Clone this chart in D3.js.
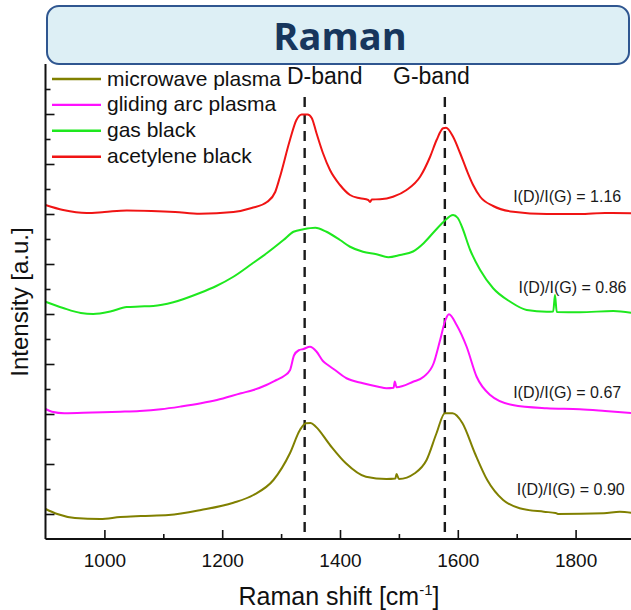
<!DOCTYPE html>
<html>
<head>
<meta charset="utf-8">
<script src="https://cdn.jsdelivr.net/npm/d3@7"></script>
<style>
  html, body { margin: 0; padding: 0; background: #fff; }
  svg { display: block; }
  text { font-family: "Liberation Sans", Arial, sans-serif; }
</style>
</head>
<body>
<div id="chart"></div>
<script>
// ---------- data ----------
const seriesNames = ["microwave plasma", "gliding arc plasma", "gas black", "acetylene black"];
const seriesColors = ["#808000", "#ff10ff", "#1ee81e", "#f01414"];

const microwaveShift = [900,920,950,993,1027,1062,1109,1164,1219,1253,1287,1315,1332,1342,1350,1359,1383,1410,1444,1479,1494,1496,1500,1527,1547,1564,1578,1591,1608,1629,1650,1677,1705,1746,1766,1770,1848,1875,1900];
const microwaveInt   = [0.2,0.0,-0.16,-0.2,-0.12,-0.08,-0.04,0.16,0.45,0.76,1.36,2.43,3.36,3.63,3.64,3.49,2.76,2.03,1.49,1.4,1.42,1.6,1.4,1.63,2.16,3.24,4.03,4.03,3.63,2.43,1.36,0.56,0.23,0.09,0.04,0.0,0.03,0.09,0.03];

const glidingShift = [900,911,932,980,1027,1060,1096,1130,1164,1191,1232,1253,1275,1292,1305,1315,1322,1330,1338,1349,1360,1371,1380,1389,1411,1439,1465,1479,1491,1493,1496,1524,1542,1559,1570,1579,1585,1598,1615,1632,1655,1693,1751,1807,1850,1900];
const glidingInt   = [4.2,4.09,4.03,4.06,4.09,4.12,4.19,4.3,4.43,4.56,4.83,4.96,5.16,5.36,5.52,5.75,6.35,6.55,6.6,6.69,6.5,6.12,5.95,5.8,5.43,5.23,5.09,5.03,5.05,5.3,5.07,5.29,5.49,6.03,6.96,7.76,7.99,7.56,6.69,5.49,4.76,4.36,4.23,4.19,4.12,4.03];

const gasShift = [900,930,960,981,1010,1038,1060,1083,1117,1162,1190,1219,1250,1276,1304,1321,1338,1358,1377,1400,1417,1439,1462,1482,1502,1524,1542,1559,1576,1592,1600,1607,1621,1638,1660,1689,1717,1751,1762,1765,1768,1807,1864,1900];
const gasInt   = [8.49,8.24,8.04,8.0,8.1,8.28,8.3,8.32,8.47,8.84,9.12,9.49,10.0,10.44,10.96,11.29,11.39,11.45,11.29,10.96,10.69,10.49,10.39,10.27,10.36,10.5,10.83,11.27,11.69,11.96,11.84,11.49,10.56,9.76,9.03,8.49,8.16,8.09,8.1,8.76,8.08,8.07,8.12,8.03];

const acetyleneShift = [900,930,970,1000,1038,1080,1120,1162,1219,1250,1276,1290,1298,1315,1326,1335,1345,1352,1360,1371,1383,1400,1417,1434,1448,1451,1454,1468,1490,1513,1536,1553,1564,1575,1580,1592,1604,1615,1626,1638,1660,1694,1751,1807,1850,1900];
const acetyleneInt   = [12.36,12.16,12.04,12.08,12.14,12.12,12.08,12.01,12.08,12.24,12.48,12.88,13.48,14.96,15.76,15.98,15.98,15.84,15.24,14.44,13.76,13.16,12.76,12.63,12.56,12.48,12.58,12.59,12.69,12.96,13.49,14.29,14.96,15.43,15.45,15.09,14.43,13.76,13.16,12.69,12.32,12.09,12.0,12.0,12.04,12.03];

const ratioLabels = ["I(D)/I(G) = 0.90", "I(D)/I(G) = 0.67", "I(D)/I(G) = 0.86", "I(D)/I(G) = 1.16"];
const ratioLabelShift = [1700, 1694, 1703, 1694];
const ratioLabelInt = [0.76, 4.63, 8.83, 12.49];

const bandNames = ["D-band", "G-band"];
const bandShift = [1340, 1578];

const xTickValues = [1000, 1200, 1400, 1600, 1800];
const xMinorTicks = [1100, 1300, 1500, 1700];
const yMajorTicks = [0, 2, 4, 6, 8, 10, 12, 14, 16];
const yMinorTicks = [1, 3, 5, 7, 9, 11, 13, 15, 17];

const titleText = "Raman";
const xLabel = "Raman shift [cm";
const xLabelSup = "-1";
const yLabel = "Intensity [a.u.]";

// ---------- layout ----------
const W = 631, H = 610;
const svg = d3.select("#chart").append("svg").attr("width", W).attr("height", H);

const x = d3.scaleLinear().domain([900, 1900]).range([45.5, 634.5]);
const y = d3.scaleLinear().domain([-1, 18]).range([539, 64]);

const seriesX = [microwaveShift, glidingShift, gasShift, acetyleneShift];
const seriesY = [microwaveInt, glidingInt, gasInt, acetyleneInt];

svg.append("clipPath").attr("id", "plotclip")
  .append("rect").attr("x", 45.5).attr("y", 40).attr("width", W - 45.5).attr("height", 539 - 40);

// dashed band lines
svg.append("g").selectAll("line").data(bandShift).join("line")
  .attr("x1", d => x(d)).attr("x2", d => x(d))
  .attr("y1", y(16.68)).attr("y2", y(-1))
  .attr("stroke", "#1a1a1a").attr("stroke-width", 2.4)
  .attr("stroke-dasharray", "10,7");

// curves
const line = d3.line().x(d => x(d[0])).y(d => y(d[1])).curve(d3.curveMonotoneX);
const gCurves = svg.append("g").attr("clip-path", "url(#plotclip)");
seriesNames.forEach((name, i) => {
  const pts = seriesX[i].map((v, j) => [v, seriesY[i][j]]);
  gCurves.append("path").datum(pts)
    .attr("d", line).attr("fill", "none")
    .attr("stroke", seriesColors[i]).attr("stroke-width", 2)
    .attr("stroke-linejoin", "round");
});

// axes
const xAxis = d3.axisBottom(x).tickValues(xTickValues).tickSize(-9).tickPadding(15).tickFormat(d3.format("d"));
const gx = svg.append("g").attr("transform", `translate(0,${y(-1)})`).call(xAxis);
gx.select(".domain").attr("d", `M${x(900)},0H${W}`).attr("stroke", "#111").attr("stroke-width", 2);
gx.selectAll(".tick line").attr("stroke", "#111").attr("stroke-width", 1.6);
gx.selectAll(".tick text").attr("font-size", 19).attr("fill", "#111")
  .style("font-family", "Liberation Sans, Arial, sans-serif");
const xMinor = d3.axisBottom(x).tickValues(xMinorTicks).tickSize(-5).tickFormat("");
const gxm = svg.append("g").attr("transform", `translate(0,${y(-1)})`).call(xMinor);
gxm.select(".domain").remove();
gxm.selectAll(".tick line").attr("stroke", "#111").attr("stroke-width", 1.6);

const yAxis = d3.axisLeft(y).tickValues(yMajorTicks).tickSize(-9).tickFormat("");
const gy = svg.append("g").attr("transform", `translate(${x(900)},0)`).call(yAxis);
gy.select(".domain").attr("d", `M0,${y(18)}V${y(-1)}`).attr("stroke", "#111").attr("stroke-width", 2);
gy.selectAll(".tick line").attr("stroke", "#111").attr("stroke-width", 1.6);
const yMinor = d3.axisLeft(y).tickValues(yMinorTicks).tickSize(-5).tickFormat("");
const gym = svg.append("g").attr("transform", `translate(${x(900)},0)`).call(yMinor);
gym.select(".domain").remove();
gym.selectAll(".tick line").attr("stroke", "#111").attr("stroke-width", 1.6);

// axis titles
const xt = svg.append("text").attr("x", 339).attr("y", 605).attr("text-anchor", "middle")
  .attr("font-size", 25).attr("fill", "#111");
xt.append("tspan").text(xLabel);
xt.append("tspan").text(xLabelSup).attr("font-size", 15).attr("dy", -10);
xt.append("tspan").text("]").attr("dy", 10);

svg.append("text").attr("transform", "translate(28,302) rotate(-90)")
  .attr("text-anchor", "middle").attr("font-size", 24).attr("fill", "#111").text(yLabel);

// ratio annotations
svg.append("g").selectAll("text").data(ratioLabels).join("text")
  .attr("x", (d, i) => x(ratioLabelShift[i]))
  .attr("y", (d, i) => y(ratioLabelInt[i]))
  .attr("font-size", 16).attr("fill", "#1a1a1a").text(d => d);

// legend
const legY0 = 79, legStep = 25.9;
const leg = svg.append("g");
seriesNames.forEach((name, i) => {
  const ly = legY0 + i * legStep;
  leg.append("line").attr("x1", 52).attr("x2", 101).attr("y1", ly).attr("y2", ly)
    .attr("stroke", seriesColors[i]).attr("stroke-width", 2.4);
  leg.append("text").attr("x", 107).attr("y", ly + 6.5)
    .attr("font-size", 21).attr("fill", "#111").text(name);
});

// band labels
svg.append("g").selectAll("text").data(bandNames).join("text")
  .attr("x", (d, i) => i === 0 ? 287 : 393).attr("y", 84)
  .attr("font-size", 23).attr("fill", "#111").text(d => d);

// title box
svg.append("rect").attr("x", 47).attr("y", 6).attr("width", 582).attr("height", 58)
  .attr("rx", 12).attr("ry", 12)
  .attr("fill", "#ddeff5").attr("stroke", "#2f5690").attr("stroke-width", 2);
svg.append("text").attr("x", 340).attr("y", 50).attr("text-anchor", "middle")
  .style("font-family", "'Open Sans', sans-serif").attr("font-weight", 700)
  .attr("font-size", 38).attr("fill", "#17365d").text(titleText);
</script>
</body>
</html>
